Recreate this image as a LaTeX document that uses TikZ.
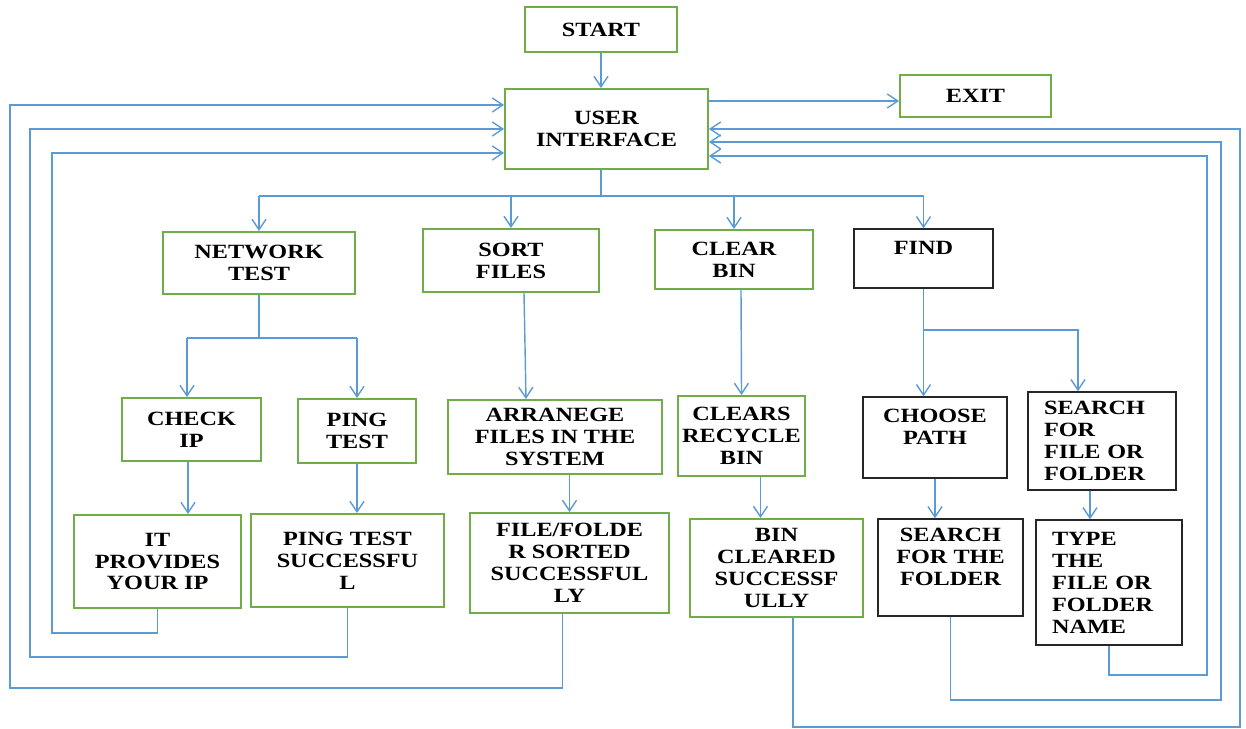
\documentclass[tikz,border=0pt]{standalone}
\usepackage{fontspec}
\setmainfont{Liberation Serif}[FakeStretch=1.2]
\usetikzlibrary{arrows.meta}

\definecolor{boxgreen}{HTML}{70AD47}
\definecolor{linkblue}{HTML}{5B9BD5}

\begin{document}
\begin{tikzpicture}[x=0.02cm, y=-0.02cm,
  every node/.style={font=\fontsize{11.5}{12.5}\selectfont\bfseries, align=center, inner sep=0pt},
  greenbox/.style={draw=boxgreen, line width=1.1pt},
  blackbox/.style={draw=black!85, line width=0.8pt},
  link/.style={draw=linkblue, line width=0.8pt},
  arr/.style={link, -{Straight Barb[length=6pt,width=8pt]}}]
  \useasboundingbox (0,0) rectangle (1246,729);

  % top
  \node[greenbox, minimum width=3.04cm, minimum height=0.9cm] (start) at (601,29.5) {START};
  \node[greenbox, minimum width=4.06cm, minimum height=1.6cm] (ui) at (606.5,129) {USER\\INTERFACE};
  \node[greenbox, minimum width=3.02cm, minimum height=0.84cm] (exit) at (975.5,96) {EXIT};

  % menu
  \node[greenbox, minimum width=3.84cm, minimum height=1.24cm] (net) at (259,263) {NETWORK\\TEST};
  \node[greenbox, minimum width=3.52cm, minimum height=1.26cm] (sort) at (511,260.5) {SORT\\FILES};
  \node[greenbox, minimum width=3.16cm, minimum height=1.18cm] (clear) at (734,259.5) {CLEAR\\BIN};
  \node[blackbox, minimum width=2.78cm, minimum height=1.18cm] (find) at (923.5,258.5) {FIND\\~};

  % second row
  \node[greenbox, minimum width=2.78cm, minimum height=1.26cm] (chkip) at (191.5,429.5) {CHECK\\IP};
  \node[greenbox, minimum width=2.36cm, minimum height=1.28cm] (ping) at (357,431) {PING\\TEST};
  \node[greenbox, minimum width=4.28cm, minimum height=1.48cm] (arrange) at (555,437) {ARRANEGE\\FILES IN THE\\SYSTEM};
  \node[greenbox, minimum width=2.54cm, minimum height=1.6cm] (clears) at (741.5,436) {CLEARS\\RECYCLE\\BIN};
  \node[blackbox, minimum width=2.88cm, minimum height=1.62cm] (choose) at (935,437.5) {CHOOSE\\PATH\\~};
  \node[blackbox, minimum width=2.96cm, minimum height=1.96cm, text width=2.32cm, align=left] (searchff) at (1102,441) {SEARCH\\FOR\\FILE OR\\FOLDER};

  % results
  \node[greenbox, minimum width=3.34cm, minimum height=1.86cm] (itip) at (157.5,561.5) {IT\\PROVIDES\\YOUR IP};
  \node[greenbox, minimum width=3.86cm, minimum height=1.86cm] (pingok) at (347.5,560.5) {PING TEST\\SUCCESSFU\\L};
  \node[greenbox, minimum width=3.98cm, minimum height=2.0cm] (sorted) at (569.5,563) {FILE/FOLDE\\R SORTED\\SUCCESSFUL\\LY};
  \node[greenbox, minimum width=3.46cm, minimum height=1.96cm] (cleared) at (776.5,568) {BIN\\CLEARED\\SUCCESSF\\ULLY};
  \node[blackbox, minimum width=2.9cm, minimum height=1.94cm] (searchfold) at (950.5,567.5) {SEARCH\\FOR THE\\FOLDER\\~};
  \node[blackbox, minimum width=2.92cm, minimum height=2.5cm, text width=2.28cm, align=left] (type) at (1109,582.5) {TYPE\\THE\\FILE OR\\FOLDER\\NAME};

  % main flow
  \draw[arr] (start.south) -- (start.south |- ui.north);
  \draw[arr] ([yshift=0.56cm]ui.east) -- ([yshift=0.56cm]ui.east -| exit.west);
  \coordinate (split) at (601,196);
  \draw[link] (ui.south -| split) -- (split);
  \draw[link] (split -| net.north) -- (split -| find.north);
  \foreach \n in {net,sort,clear,find}
    \draw[arr] (split -| \n.north) -- (\n.north);

  % network test
  \coordinate (netsplit) at (259,338);
  \draw[link] (net.south) -- (netsplit);
  \draw[link] ([xshift=-0.09cm]netsplit -| chkip.north) -- (netsplit -| ping.north);
  \draw[arr] ([xshift=-0.09cm]netsplit -| chkip.north) -- ([xshift=-0.09cm]chkip.north);
  \draw[arr] (netsplit -| ping.north) -- (ping.north);
  \draw[arr] ([xshift=-0.07cm]chkip.south) -- ([xshift=-0.07cm]chkip.south |- itip.north);
  \draw[arr] (ping.south) -- (ping.south |- pingok.north);

  % sort / clear
  \draw[arr] ([xshift=0.26cm]sort.south) -- ([xshift=-0.58cm]arrange.north);
  \draw[arr] (arrange.south -| sorted.north) -- (sorted.north);
  \draw[arr] ([xshift=0.14cm]clear.south) -- (clears.north);
  \draw[arr] ([xshift=0.38cm]clears.south) -- ([xshift=0.38cm]clears.south |- cleared.north);

  % find
  \coordinate (findsplit) at (923,330);
  \draw[arr] (find.south) -- (find.south |- choose.north);
  \draw[arr] (findsplit) -| ([xshift=-0.48cm]searchff.north);
  \draw[arr] (choose.south) -- (choose.south |- searchfold.north);
  \draw[arr] ([xshift=-0.24cm]searchff.south) -- ([xshift=-0.24cm]searchff.south |- type.north);

  % back to the user interface
  \draw[arr] (itip.south) |- (52,633) |- ([yshift=-0.48cm]ui.west);
  \draw[arr] (pingok.south) |- (30,657) |- (ui.west);
  \draw[arr] ([xshift=-0.14cm]sorted.south) |- (10,688) |- ([yshift=0.48cm]ui.west);
  \draw[arr] (type.south) |- (1207,675) |- ([yshift=-0.54cm]ui.east);
  \draw[arr] (searchfold.south) |- (1221,700) |- ([yshift=-0.26cm]ui.east);
  \draw[arr] ([xshift=0.33cm]cleared.south) |- (1240,727) |- (ui.east);
\end{tikzpicture}
\end{document}
